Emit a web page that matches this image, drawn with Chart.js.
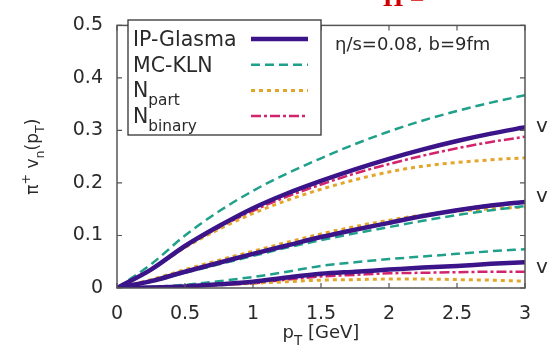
<!DOCTYPE html>
<html>
<head>
<meta charset="utf-8">
<script src="https://cdn.jsdelivr.net/npm/chart.js@4"></script>
<style>
  html, body { margin: 0; padding: 0; background: #fff; }
  #wrap { width: 548px; height: 353px; }
</style>
</head>
<body>
<div id="wrap"><canvas id="chart"></canvas></div>
<script>
// pT grid (GeV)
const ptValues = [0, 0.25, 0.5, 0.75, 1, 1.25, 1.5, 1.75, 2, 2.25, 2.5, 2.75, 3];

// v2
const glasmaV2 = [0, 0.035, 0.08, 0.118, 0.152, 0.18, 0.204, 0.226, 0.246, 0.264, 0.28, 0.294, 0.306];
const klnV2    = [0, 0.045, 0.1, 0.146, 0.185, 0.218, 0.247, 0.274, 0.298, 0.319, 0.337, 0.353, 0.367];
const npartV2  = [0, 0.035, 0.077, 0.112, 0.142, 0.167, 0.188, 0.206, 0.221, 0.232, 0.239, 0.244, 0.248];
const nbinV2   = [0, 0.034, 0.078, 0.115, 0.147, 0.174, 0.197, 0.218, 0.236, 0.252, 0.266, 0.278, 0.288];

// v3
const glasmaV3 = [0, 0.013, 0.031, 0.048, 0.065, 0.081, 0.097, 0.111, 0.124, 0.137, 0.148, 0.157, 0.164];
const klnV3    = [0, 0.012, 0.029, 0.045, 0.061, 0.077, 0.091, 0.104, 0.116, 0.128, 0.139, 0.148, 0.156];
const npartV3  = [0, 0.016, 0.035, 0.053, 0.07, 0.087, 0.103, 0.117, 0.129, 0.139, 0.146, 0.151, 0.154];
const nbinV3   = [0, 0.013, 0.032, 0.049, 0.066, 0.082, 0.098, 0.112, 0.125, 0.138, 0.149, 0.158, 0.165];

// v4
const glasmaV4 = [0, 0.001, 0.003, 0.007, 0.012, 0.02, 0.027, 0.031, 0.035, 0.039, 0.042, 0.046, 0.049];
const klnV4    = [0, 0.002, 0.006, 0.013, 0.021, 0.031, 0.042, 0.049, 0.055, 0.06, 0.065, 0.07, 0.074];
const npartV4  = [0, 0.001, 0.003, 0.006, 0.009, 0.012, 0.015, 0.016, 0.017, 0.017, 0.016, 0.015, 0.013];
const nbinV4   = [0, 0.001, 0.003, 0.006, 0.009, 0.016, 0.022, 0.025, 0.028, 0.029, 0.030, 0.031, 0.031];

const models = ["IP-Glasma", "MC-KLN", "N_part", "N_binary"];
const harmonicLabels = ["v2", "v3", "v4"];
const harmonicAt = [0.311, 0.177, 0.042];  // where the side labels sit

const styles = {
  "IP-Glasma": { color: "#3a1488", width: 4.5, dash: [] },
  "MC-KLN":   { color: "#1fa08a", width: 2.5, dash: [9, 5] },
  "N_part":   { color: "#e4a62a", width: 3, dash: [4, 4] },
  "N_binary": { color: "#d2246c", width: 2.5, dash: [10, 3, 3, 3] }
};

const seriesByModel = {
  "IP-Glasma": [glasmaV2, glasmaV3, glasmaV4],
  "MC-KLN":   [klnV2, klnV3, klnV4],
  "N_part":   [npartV2, npartV3, npartV4],
  "N_binary": [nbinV2, nbinV3, nbinV4]
};

const datasets = [];
models.forEach((m) => {
  seriesByModel[m].forEach((arr, i) => {
    const s = styles[m];
    datasets.push({
      label: m + " " + harmonicLabels[i],
      data: arr.map((v, k) => ({ x: ptValues[k], y: v })),
      borderColor: s.color,
      borderWidth: s.width,
      borderDash: s.dash,
      pointRadius: 0,
      fill: false,
      cubicInterpolationMode: "monotone"
    });
  });
});

const FONT = "'DejaVu Sans', sans-serif";
const TEXT = "#2a2a2a";

// draw text with sub/superscript pieces: [text, kind] kind: 0 normal, -1 sub, 1 sup
function drawRich(ctx, parts, x, y, size) {
  let cx = x;
  parts.forEach(([t, kind]) => {
    const fs = kind === 0 ? size : size * 0.75;
    const dy = kind === -1 ? size * 0.38 : (kind === 1 ? -size * 0.45 : 0);
    ctx.font = fs + "px " + FONT;
    ctx.fillText(t, cx, y + dy);
    cx += ctx.measureText(t).width;
  });
  return cx - x;
}
function richWidth(ctx, parts, size) {
  let w = 0;
  parts.forEach(([t, kind]) => {
    const fs = kind === 0 ? size : size * 0.75;
    ctx.font = fs + "px " + FONT;
    w += ctx.measureText(t).width;
  });
  return w;
}

const decor = {
  id: "decor",
  afterDatasetsDraw(chart) {
    const ctx = chart.ctx;
    const a = chart.chartArea;
    const xs = chart.scales.x, ys = chart.scales.y;
    ctx.save();

    // frame with inward ticks
    ctx.strokeStyle = "#555";
    ctx.lineWidth = 1.5;
    ctx.setLineDash([]);
    ctx.strokeRect(a.left, a.top, a.right - a.left, a.bottom - a.top);
    ctx.lineWidth = 1.2;
    ctx.beginPath();
    xs.ticks.forEach((t) => {
      const px = xs.getPixelForValue(t.value);
      ctx.moveTo(px, a.bottom); ctx.lineTo(px, a.bottom - 5);
      ctx.moveTo(px, a.top); ctx.lineTo(px, a.top + 5);
    });
    ys.ticks.forEach((t) => {
      const py = ys.getPixelForValue(t.value);
      ctx.moveTo(a.left, py); ctx.lineTo(a.left + 5, py);
      ctx.moveTo(a.right, py); ctx.lineTo(a.right - 5, py);
    });
    ctx.stroke();

    // legend box
    const lx = 128, ly = 20, lw = 193, lh = 115;
    ctx.fillStyle = "#fff";
    ctx.fillRect(lx, ly, lw, lh);
    ctx.strokeStyle = "#333";
    ctx.lineWidth = 1.3;
    ctx.strokeRect(lx, ly, lw, lh);
    const legendText = {
      "IP-Glasma": [["IP-Glasma", 0]],
      "MC-KLN": [["MC-KLN", 0]],
      "N_part": [["N", 0], ["part", -1]],
      "N_binary": [["N", 0], ["binary", -1]]
    };
    ctx.fillStyle = TEXT;
    ctx.textBaseline = "alphabetic";
    models.forEach((m, i) => {
      const yLine = 39 + i * 25.7;
      drawRich(ctx, legendText[m], 133, yLine + 7, 20.5);
      const s = styles[m];
      ctx.strokeStyle = s.color;
      ctx.lineWidth = s.width;
      ctx.setLineDash(s.dash);
      ctx.beginPath();
      ctx.moveTo(251, yLine); ctx.lineTo(308, yLine);
      ctx.stroke();
    });
    ctx.setLineDash([]);

    // annotation
    ctx.fillStyle = TEXT;
    ctx.font = "18px " + FONT;
    ctx.fillText("\u03b7/s=0.08, b=9fm", 335, 50);

    // harmonic labels at right edge
    harmonicLabels.forEach((lab, i) => {
      const py = ys.getPixelForValue(harmonicAt[i]);
      drawRich(ctx, [["v", 0], [lab.slice(1), -1]], 536, py + 7, 20);
    });

    // y title (rotated)
    const yParts = [["\u03c0", 0], ["+", 1], [" v", 0], ["n", -1], ["(p", 0], ["T", -1], [")", 0]];
    ctx.save();
    ctx.translate(38, (a.top + a.bottom) / 2);
    ctx.rotate(-Math.PI / 2);
    const yw = richWidth(ctx, yParts, 17);
    drawRich(ctx, yParts, -yw / 2, 0, 17);
    ctx.restore();

    // x title
    const xParts = [["p", 0], ["T", -1], [" [GeV]", 0]];
    const xw = richWidth(ctx, xParts, 18);
    drawRich(ctx, xParts, (a.left + a.right) / 2 - xw / 2, 338, 18);

    // clipped red heading at the very top
    ctx.fillStyle = "#d00000";
    ctx.font = "bold 26px 'Liberation Serif', serif";
    ctx.fillText("\u03a0 =", 383, 6);

    ctx.restore();
  }
};

const chart = new Chart(document.getElementById("chart"), {
  type: "line",
  data: { datasets: datasets },
  options: {
    responsive: true,
    maintainAspectRatio: false,
    animation: false,
    layout: { padding: { left: 0, right: 23, top: 15, bottom: 0 } },
    plugins: { legend: { display: false }, tooltip: { enabled: false } },
    scales: {
      x: {
        type: "linear",
        min: 0, max: 3,
        ticks: {
          stepSize: 0.5,
          padding: 15,
          color: TEXT,
          font: { family: FONT, size: 19 },
          maxRotation: 0,
          callback: (v) => String(v)
        },
        grid: { display: false, drawTicks: false },
        border: { display: false },
        afterFit: (s) => { s.height = 65; }
      },
      y: {
        min: 0, max: 0.5,
        ticks: {
          stepSize: 0.1,
          padding: 14,
          color: TEXT,
          font: { family: FONT, size: 19 },
          callback: (v) => String(Math.round(v * 10) / 10)
        },
        grid: { display: false, drawTicks: false },
        border: { display: false },
        afterFit: (s) => { s.width = 117; }
      }
    }
  },
  plugins: [decor]
});
</script>
</body>
</html>
